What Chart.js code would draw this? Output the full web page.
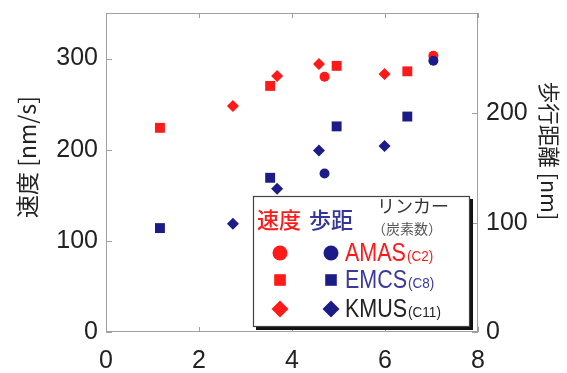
<!DOCTYPE html>
<html><head><meta charset="utf-8">
<script src="https://cdn.jsdelivr.net/npm/chart.js@4/dist/chart.umd.min.js"></script>
<style>html,body{margin:0;padding:0;background:#fff;}#wrap{width:567px;height:373px;position:relative;}</style>
</head><body><div id="wrap"><canvas id="c" width="567" height="373"></canvas></div>
<script>
// ---- data ----
const linkerNames = ['AMAS', 'EMCS', 'KMUS'];
const carbonLabels = ['(C2)', '(C8)', '(C11)'];
const amasX = [4.70, 7.04];
const amasSpeed = [280, 303];
const amasStride = [145, 248];
const emcsX = [1.16, 3.53, 4.96, 6.48];
const emcsSpeed = [224, 270, 292, 286];
const emcsStride = [95, 141, 188, 197];
const kmusX = [2.73, 3.68, 4.58, 5.99];
const kmusSpeed = [248, 281, 294, 283];
const kmusStride = [99, 131, 166, 170];
const xTicks = [0, 2, 4, 6, 8];
const speedTicks = [0, 100, 200, 300];
const strideTicks = [0, 100, 200];
const speedTitle = '速度 [nm/s]';
const strideTitle = '歩行距離 [nm]';
const legendSpeed = '速度';
const legendStride = '歩距';
const legendHead1 = 'リンカー';
const legendHead2 = '（炭素数）';

const RED = '#ff1a1a';
const NAVY = '#1c1c88';
const LAT = '"Liberation Sans", Arial, "Noto Sans CJK JP", sans-serif';
const CJK = '"Noto Sans CJK JP", "Liberation Sans", sans-serif';

function pts(xs, ys) { return xs.map((x, i) => ({x: x, y: ys[i]})); }

const styles = ['circle', 'rect', 'rectRot'];
const radii = [5, 7, 6];
const xs = [amasX, emcsX, kmusX];
const sp = [amasSpeed, emcsSpeed, kmusSpeed];
const st = [amasStride, emcsStride, kmusStride];
const datasets = [];
for (let i = 0; i < 3; i++) {
  datasets.push({label: linkerNames[i] + ' speed', data: pts(xs[i], sp[i]), yAxisID: 'y',
    pointStyle: styles[i], pointRadius: radii[i], pointHoverRadius: radii[i],
    backgroundColor: RED, borderColor: RED, borderWidth: 0, showLine: false});
}
for (let i = 0; i < 3; i++) {
  datasets.push({label: linkerNames[i] + ' stride', data: pts(xs[i], st[i]), yAxisID: 'y2',
    pointStyle: styles[i], pointRadius: radii[i], pointHoverRadius: radii[i],
    backgroundColor: NAVY, borderColor: NAVY, borderWidth: 0, showLine: false});
}
datasets.reverse();

function marker(ctx, style, x, y, r, color) {
  ctx.fillStyle = color;
  ctx.beginPath();
  if (style === 'circle') ctx.arc(x, y, r, 0, Math.PI * 2);
  else if (style === 'rect') ctx.rect(x - r, y - r, 2 * r, 2 * r);
  else { ctx.moveTo(x, y - r); ctx.lineTo(x + r, y); ctx.lineTo(x, y + r); ctx.lineTo(x - r, y); ctx.closePath(); }
  ctx.fill();
}

function scaledText(ctx, txt, x, y, font, color, sx) {
  ctx.save();
  ctx.font = font; ctx.fillStyle = color;
  ctx.textAlign = 'left'; ctx.textBaseline = 'alphabetic';
  ctx.translate(x, y); ctx.scale(sx, 1);
  ctx.fillText(txt, 0, 0);
  const w = ctx.measureText(txt).width * sx;
  ctx.restore();
  return w;
}

const framePlugin = {
  id: 'frame',
  afterDatasetsDraw(chart) {
    const ctx = chart.ctx, a = chart.chartArea;
    const sx = chart.scales.x, sy = chart.scales.y, sy2 = chart.scales.y2;
    ctx.save();
    ctx.strokeStyle = '#a0a0a0'; ctx.lineWidth = 1;
    ctx.strokeRect(a.left + 0.5, a.top + 0.5, a.right - a.left - 1, a.bottom - a.top - 1);
    ctx.beginPath();
    xTicks.forEach(v => { const p = Math.round(sx.getPixelForValue(v)) + 0.5;
      ctx.moveTo(p, a.bottom); ctx.lineTo(p, a.bottom - 5); ctx.moveTo(p, a.top); ctx.lineTo(p, a.top + 5); });
    speedTicks.forEach(v => { const p = Math.round(sy.getPixelForValue(v)) + 0.5;
      ctx.moveTo(a.left, p); ctx.lineTo(a.left + 6, p); });
    strideTicks.forEach(v => { const p = Math.round(sy2.getPixelForValue(v)) + 0.5;
      ctx.moveTo(a.right, p); ctx.lineTo(a.right - 6, p); });
    ctx.stroke();

    // axis titles
    ctx.fillStyle = '#222'; ctx.textAlign = 'center'; ctx.textBaseline = 'middle';
    ctx.font = '23px ' + CJK;
    ctx.save(); ctx.translate(27, 157); ctx.rotate(-Math.PI / 2); ctx.fillText(speedTitle, 0, 0); ctx.restore();
    ctx.font = '21.5px ' + CJK;
    ctx.save(); ctx.translate(549, 151); ctx.rotate(Math.PI / 2); ctx.fillText(strideTitle, 0, 0); ctx.restore();

    // legend box
    const bx = 253, by = 196, bw = 216, bh = 130;
    ctx.fillStyle = '#111'; ctx.fillRect(bx + 3, by + 3, bw + 1, bh + 1);
    ctx.fillStyle = '#fff'; ctx.fillRect(bx, by, bw, bh);
    ctx.strokeStyle = '#444'; ctx.lineWidth = 1.2; ctx.strokeRect(bx + 0.5, by + 0.5, bw, bh);

    ctx.textAlign = 'left'; ctx.textBaseline = 'middle';
    ctx.font = '500 22px ' + CJK;
    ctx.fillStyle = RED; ctx.fillText(legendSpeed, 257, 220);
    ctx.fillStyle = '#34349a'; ctx.fillText(legendStride, 309, 220);
    ctx.fillStyle = '#333'; ctx.font = '18px ' + CJK; ctx.fillText(legendHead1, 377, 206);
    ctx.fillStyle = '#555'; ctx.font = '14px ' + CJK; ctx.fillText(legendHead2, 372, 229);

    const rowY = [253, 280, 309];
    const textCol = [RED, '#3a3a9e', '#222'];
    const mr = [7.5, 5.8, 8.5];
    for (let i = 0; i < 3; i++) {
      marker(ctx, styles[i], 280, rowY[i], mr[i], RED);
      marker(ctx, styles[i], 331, rowY[i], mr[i], NAVY);
      const base = rowY[i] + 8;
      const w = scaledText(ctx, linkerNames[i], 345, base, '25px ' + LAT, textCol[i], 0.86);
      scaledText(ctx, carbonLabels[i], 345 + w + 1, base, '15px ' + LAT, textCol[i], 0.9);
    }
    ctx.restore();
  }
};

function zeroPad(s) { s.paddingTop = 0; s.paddingBottom = 0; s.paddingLeft = 0; s.paddingRight = 0; }
const tickFont = {family: LAT, size: 25};
new Chart(document.getElementById('c'), {
  type: 'scatter',
  data: {datasets: datasets},
  options: {
    responsive: false, animation: false, devicePixelRatio: 1,
    layout: {padding: {top: 13, left: 0, right: 0, bottom: 0}},
    plugins: {legend: {display: false}, tooltip: {enabled: false}},
    scales: {
      x: {type: 'linear', min: 0, max: 8,
        afterBuildTicks: s => { s.ticks = xTicks.map(v => ({value: v})); },
        afterFit: s => { s.height = 41; zeroPad(s); },
        grid: {display: false, drawTicks: false}, border: {display: false},
        ticks: {font: tickFont, color: '#222', padding: 14, maxRotation: 0, minRotation: 0, autoSkip: false}},
      y: {type: 'linear', position: 'left', min: 0, max: 350,
        afterBuildTicks: s => { s.ticks = speedTicks.map(v => ({value: v})); },
        afterFit: s => { s.width = 106; zeroPad(s); },
        grid: {display: false, drawTicks: false}, border: {display: false},
        ticks: {font: tickFont, color: '#222', padding: 8}},
      y2: {type: 'linear', position: 'right', min: 0, max: 350 / 1.2,
        afterBuildTicks: s => { s.ticks = strideTicks.map(v => ({value: v})); },
        afterFit: s => { s.width = 89; zeroPad(s); },
        grid: {display: false, drawTicks: false}, border: {display: false},
        ticks: {font: tickFont, color: '#222', padding: 8}}
    }
  },
  plugins: [framePlugin]
});
</script></body></html>
